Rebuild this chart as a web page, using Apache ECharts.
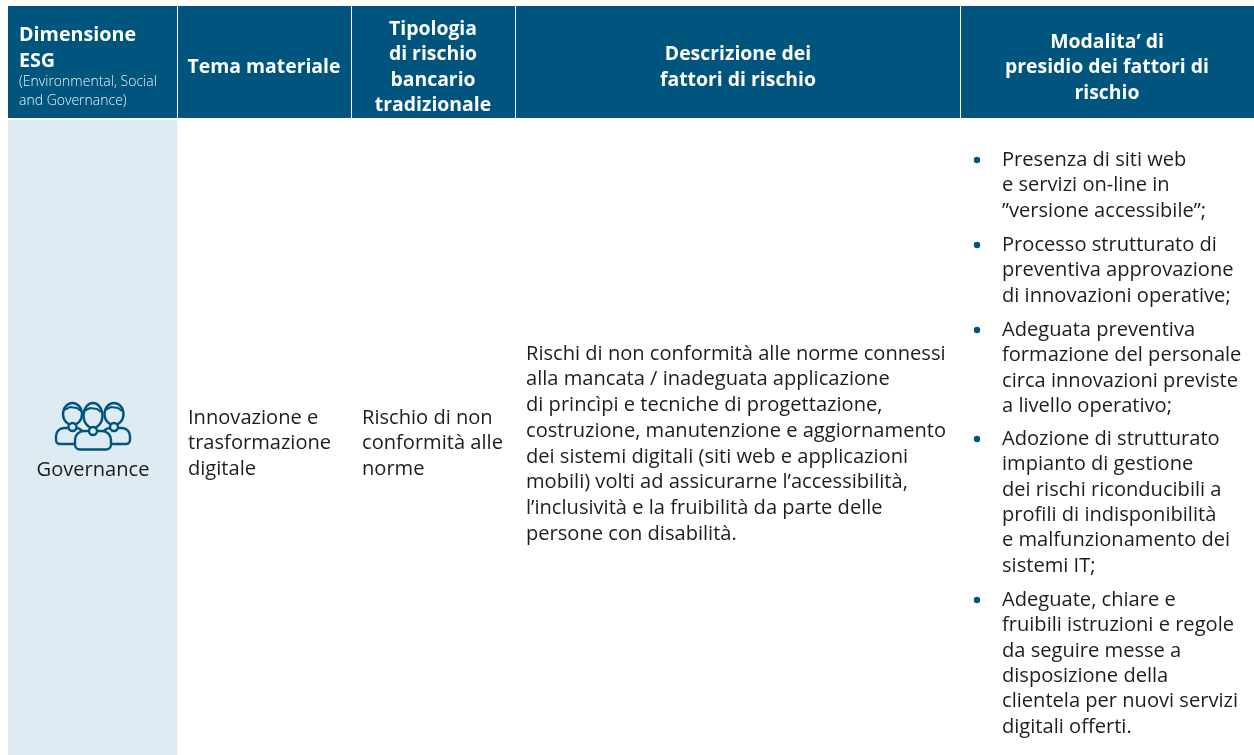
<!DOCTYPE html>
<html><head><meta charset="utf-8">
<style>html,body{margin:0;padding:0;background:#fff}#c{width:1254px;height:755px}</style>
<script src="https://cdn.jsdelivr.net/npm/echarts@6/dist/echarts.min.js"></script>
</head><body><div id="c"></div>
<script>
const headerMain = ['Dimensione','ESG'];
const headerSub = ['(Environmental, Social','and Governance)'];
const headerTema = ['Tema materiale'];
const headerTipologia = ['Tipologia','di rischio','bancario','tradizionale'];
const headerDescrizione = ['Descrizione dei','fattori di rischio'];
const headerModalita = ['Modalita’ di','presidio dei fattori di','rischio'];
const dimensione = 'Governance';
const tema = ['Innovazione e','trasformazione','digitale'];
const tipologia = ['Rischio di non','conformità alle','norme'];
const descrizione = ['Rischi di non conformità alle norme connessi','alla mancata / inadeguata applicazione','di princìpi e tecniche di progettazione,','costruzione, manutenzione e aggiornamento','dei sistemi digitali (siti web e applicazioni','mobili) volti ad assicurarne l’accessibilità,','l’inclusività e la fruibilità da parte delle','persone con disabilità.'];
const presidio = [
 ['Presenza di siti web','e servizi on-line in','”versione accessibile”;'],
 ['Processo strutturato di','preventiva approvazione','di innovazioni operative;'],
 ['Adeguata preventiva','formazione del personale','circa innovazioni previste','a livello operativo;'],
 ['Adozione di strutturato','impianto di gestione','dei rischi riconducibili a','profili di indisponibilità','e malfunzionamento dei','sistemi IT;'],
 ['Adeguate, chiare e','fruibili istruzioni e regole','da seguire messe a','disposizione della','clientela per nuovi servizi','digitali offerti.']
];
const presidioY = [160,245,330,439,600];

const FONT='"Open Sans"', HEAD='#00557f', LIGHT='#deebf2', INK='#1d1d1b';
const cols=[[8,177],[178,351],[352,515],[516,960],[961,1254]];
const els=[];
function rect(x,y,w,h,fill){els.push({type:'rect',shape:{x,y,width:w,height:h},style:{fill}});}
function txt(s,x,y,size,color,weight,align){els.push({type:'text',x,y,style:{text:s,font:`${weight} ${size}px ${FONT}`,fill:color,textAlign:align||'left',textVerticalAlign:'middle'}});}
cols.forEach(c=>rect(c[0],6,c[1]-c[0],112,HEAD));
rect(8,120,169,635,LIGHT);
const H=19.4,B=20.1;
headerMain.forEach((s,i)=>txt(s,19,35+i*26,19.7,'#fff',700));
headerSub.forEach((s,i)=>txt(s,19,82+i*19,14,'#e8f0f5',300));
txt(headerTema[0],264,67,H,'#fff',700,'center');
headerTipologia.forEach((s,i)=>txt(s,433,29+i*25.6,H,'#fff',700,'center'));
headerDescrizione.forEach((s,i)=>txt(s,738,54+i*26,H,'#fff',700,'center'));
headerModalita.forEach((s,i)=>txt(s,1107,42+i*25.5,H,'#fff',700,'center'));
txt(dimensione,93,470,B,INK,400,'center');
tema.forEach((s,i)=>txt(s,188,418+i*25.6,B,INK,400));
tipologia.forEach((s,i)=>txt(s,362,418+i*25.6,B,INK,400));
descrizione.forEach((s,i)=>txt(s,526,354+i*25.7,B,INK,400));
presidio.forEach((g,k)=>{
 els.push({type:'circle',shape:{cx:977,cy:presidioY[k],r:3.2},style:{fill:HEAD}});
 g.forEach((s,i)=>txt(s,1002,presidioY[k]+i*25.4,B,INK,400));
});
const ic={fill:LIGHT,stroke:HEAD,lineWidth:2.4};
const body=(x,y,w,h,r)=>({type:'rect',shape:{x,y,width:w,height:h,r},style:ic});
const head=(cx,cy,rx,ry)=>({type:'ellipse',shape:{cx,cy,rx,ry},style:ic});
els.push(body(56,428,28,16,[8,8,4,4]),body(102,428,28,16,[8,8,4,4]),head(72.5,414,9.5,11),head(114,414,9.5,11),
 {type:'circle',shape:{cx:72.5,cy:427,r:4},style:ic},{type:'circle',shape:{cx:114,cy:427,r:4},style:ic},
 body(75,431,36,18.5,[9,9,5,5]),head(93,415.5,9.5,12.5),{type:'circle',shape:{cx:93,cy:431,r:4},style:ic});
[[64,409,81,409],[105,409,122,409],[84,410,101,410]].forEach(l=>els.push({type:'polyline',shape:{points:[[l[0],l[1]+1],[l[0]+6,l[1]-2],[l[2]-4,l[3]-1],[l[2],l[3]+2]]},style:{fill:null,stroke:HEAD,lineWidth:2}}));
const chart=echarts.init(document.getElementById('c'),null,{renderer:'canvas'});
chart.setOption({animation:false,backgroundColor:'#fff',graphic:{elements:els}});
</script></body></html>
